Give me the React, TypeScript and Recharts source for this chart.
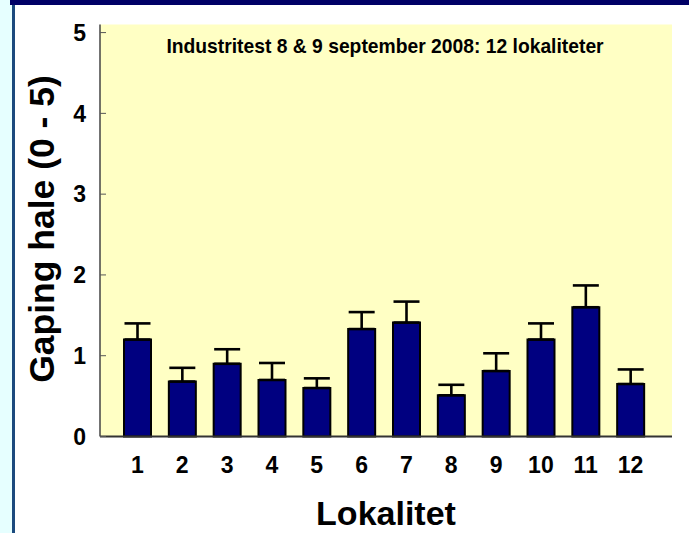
import React from 'react';
import { BarChart, Bar, XAxis, YAxis, CartesianGrid, ErrorBar } from 'recharts';

const categories = ['1', '2', '3', '4', '5', '6', '7', '8', '9', '10', '11', '12'];
const means = [1.2, 0.68, 0.9, 0.7, 0.6, 1.33, 1.41, 0.51, 0.81, 1.2, 1.6, 0.65];
const errUp = [0.2, 0.17, 0.18, 0.21, 0.12, 0.21, 0.26, 0.13, 0.22, 0.2, 0.27, 0.18];
const yTicks = [0, 1, 2, 3, 4, 5];

const titleText = 'Industritest 8 & 9 september 2008: 12 lokaliteter';
const yLabelText = 'Gaping hale (0 - 5)';
const xLabelText = 'Lokalitet';

const data = categories.map((c, i) => ({ name: c, value: means[i], err: [0, errUp[i]] }));

const FONT = '"Liberation Sans", Arial, Helvetica, sans-serif';

export default function App() {
  return (
    <div style={{ position: 'absolute', left: 0, top: 0, width: 689, height: 533, background: '#fff', overflow: 'hidden', fontFamily: FONT }}>
      <div style={{ position: 'absolute', left: 0, top: 0, width: 12, height: 533, background: '#E6FFFF' }} />
      <div style={{ position: 'absolute', left: 12, top: 0, width: 3, height: 533, background: '#1B4A7E' }} />
      <div style={{ position: 'absolute', left: 10, top: 0, width: 679, height: 5, background: '#000066' }} />
      <div style={{ position: 'absolute', left: 0, top: 0 }}>
        <BarChart width={689} height={533} data={data} margin={{ top: 24.5, right: 17, left: 14, bottom: 0 }}>
          <CartesianGrid horizontal={false} vertical={false} fill="#FFFFC4" />
          <XAxis
            dataKey="name"
            xAxisId="bottom"
            height={96.5}
            padding={{ left: 15, right: 19 }}
            tickLine={false}
            tickSize={0}
            tickMargin={20}
            interval={0}
            axisLine={{ stroke: '#333', strokeWidth: 2 }}
            tick={{ fill: '#000', fontSize: 23, fontWeight: 'bold', fontFamily: FONT }}
            label={{ value: xLabelText, position: 'insideBottom', offset: 8, fill: '#000', fontSize: 34, fontWeight: 'bold', fontFamily: FONT }}
          />
          <XAxis xAxisId="top" orientation="top" height={0} tick={false} tickLine={false} axisLine={{ stroke: '#444', strokeWidth: 1.5 }} />
          <YAxis
            yAxisId="left"
            width={86}
            type="number"
            domain={[0, 5.1]}
            ticks={yTicks}
            interval={0}
            tickSize={-6}
            tickMargin={20}
            tickLine={{ stroke: '#555', strokeWidth: 1 }}
            axisLine={{ stroke: '#444', strokeWidth: 1.5 }}
            tick={{ fill: '#000', fontSize: 23, fontWeight: 'bold', fontFamily: FONT }}
          />
          <YAxis
            yAxisId="right"
            orientation="right"
            width={0}
            type="number"
            domain={[0, 5.1]}
            ticks={yTicks}
            interval={0}
            tick={false}
            tickSize={-6}
            tickLine={{ stroke: '#555', strokeWidth: 1 }}
            axisLine={{ stroke: '#444', strokeWidth: 1.5 }}
          />
          <Bar xAxisId="bottom" yAxisId="left" dataKey="value" fill="#000080" stroke="#000" strokeWidth={2} barSize={27} isAnimationActive={false}>
            <ErrorBar dataKey="err" direction="y" width={13} strokeWidth={2.6} stroke="#000" isAnimationActive={false} />
          </Bar>
          <text x={385} y={53} textAnchor="middle" fontSize={19.3} fontWeight="bold" fill="#000" fontFamily={FONT}>
            {titleText}
          </text>
          <text x={54} y={229} transform="rotate(-90, 54, 229)" textAnchor="middle" fontSize={35.5} fontWeight="bold" fill="#000" fontFamily={FONT}>
            {yLabelText}
          </text>
        </BarChart>
      </div>
    </div>
  );
}
